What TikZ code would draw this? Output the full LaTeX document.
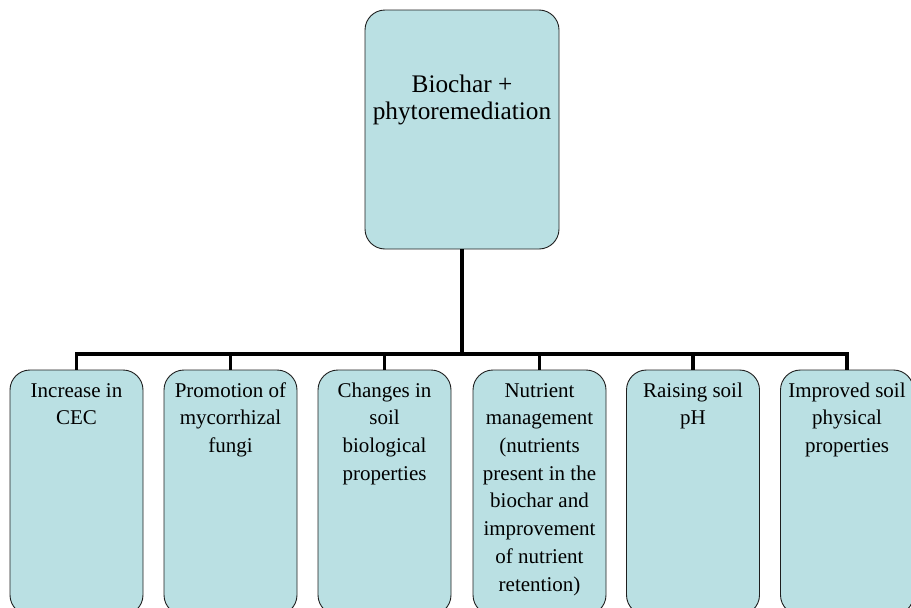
\documentclass[tikz,border=0pt]{standalone}
\usepackage{fontspec}
\setmainfont{Liberation Serif}
\definecolor{boxfill}{RGB}{186,224,227}
\definecolor{boxline}{RGB}{30,30,30}
\begin{document}
\begin{tikzpicture}[x=1pt,y=-1pt,
  cbox/.style={draw=boxline,line width=0.9pt,fill=boxfill,rounded corners=20pt,inner sep=0pt},
  topbox/.style={cbox,minimum width=194pt,minimum height=239pt},
  subbox/.style={cbox,minimum width=133pt,minimum height=245pt},
  toptext/.style={inner sep=0pt,align=center,font=\fontsize{25.3}{27}\selectfont,anchor=north},
  subtext/.style={inner sep=0pt,align=center,font=\fontsize{21}{27.7}\selectfont,anchor=north},
  conn/.style={line width=3.2pt,black}]
\useasboundingbox (0,0) rectangle (911,608);
\node[topbox] (top) at (462,129.5) {};
\node[toptext] (toptxt) at (462,73.8) {\strut Biochar +\\phytoremediation};
\foreach \i/\x in {1/76.5,2/230.5,3/384.5,4/539.5,5/693,6/847}{
  \node[subbox] (b\i) at (\x,492.5) {};
}
\node[subtext] (t1) at (b1.north |- 0,377.6) {\strut Increase in\\CEC};
\node[subtext] (t2) at (b2.north |- 0,377.6) {\strut Promotion of\\mycorrhizal\\fungi};
\node[subtext] (t3) at (b3.north |- 0,377.6) {\strut Changes in\\soil\\biological\\properties};
\node[subtext] (t4) at (b4.north |- 0,377.6) {\strut Nutrient\\management\\(nutrients\\present in the\\biochar and\\improvement\\of nutrient\\retention)};
\node[subtext] (t5) at (b5.north |- 0,377.6) {\strut Raising soil\\pH};
\node[subtext] (t6) at (b6.north |- 0,377.6) {\strut Improved soil\\physical\\properties};
\coordinate (hub) at (462,354);
\draw[conn] (top.south) -- (hub);
\draw[conn] (b1.north) -- (b1.north |- hub) -- (b6.north |- hub) -- (b6.north);
\foreach \i in {2,3,4,5}{
  \draw[conn] (b\i.north |- hub) -- (b\i.north);
}
\end{tikzpicture}
\end{document}
